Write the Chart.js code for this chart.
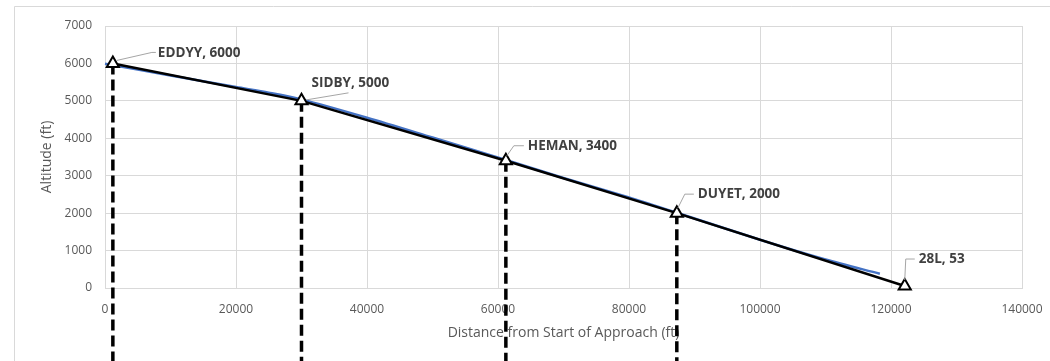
<!DOCTYPE html>
<html><head><meta charset="utf-8">
<script src="https://cdn.jsdelivr.net/npm/chart.js@4.4.0/dist/chart.umd.min.js"></script>
<style>html,body{margin:0;padding:0;background:#fff;overflow:hidden}canvas{display:block}</style>
</head><body><canvas id="c" width="1050" height="361"></canvas>
<script>
// ---- data ----
const waypointNames = ['EDDYY', 'SIDBY', 'HEMAN', 'DUYET', '28L'];
const waypointDistance = [1200, 30000, 61200, 87300, 122100];
const waypointAltitude = [6000, 5000, 3400, 2000, 53];
const dropLineWaypoints = [0, 1, 2, 3];
const dropLineBottom = -2000;
const profileDistance = [0, 10000, 20000, 25000, 30000, 40000, 50000, 61200, 70000, 80000, 87300, 100000, 110000, 118300];
const profileAltitude = [5990, 5680, 5370, 5220, 5040, 4550, 4020, 3420, 2940, 2420, 2010, 1290, 760, 380];
const xTickValues = [0, 20000, 40000, 60000, 80000, 100000, 120000, 140000];
const yTickValues = [0, 1000, 2000, 3000, 4000, 5000, 6000, 7000];
const xTitle = 'Distance from Start of Approach (ft)';
const yTitle = 'Altitude (ft)';

// ---- label placement (pixel offsets from the point; style only) ----
const labelStyle = [
  {dx: 45, dy: -10, leader: [[4, -3], [39, -11], [43, -11]]},
  {dx: 10, dy: -18, leader: [[5, -1], [47, -8]]},
  {dx: 22, dy: -15, leader: [[1, -5], [8, -15], [18, -15]]},
  {dx: 21, dy: -19, leader: [[1, -5], [8, -19], [17, -19]]},
  {dx: 14, dy: -27, leader: [[0, -6], [1, -27], [10, -27]]}
];

const GRAY = '#595959';
const GRID = '#d9d9d9';
const FONT = "'Open Sans', 'Liberation Sans', sans-serif";

const waypointPoints = waypointDistance.map((x, i) => ({x, y: waypointAltitude[i]}));
const profilePoints = profileDistance.map((x, i) => ({x, y: profileAltitude[i]}));

const datasets = [
  {
    label: 'Waypoints', data: waypointPoints, order: 0,
    borderColor: '#000', borderWidth: 2.5, tension: 0,
    pointStyle: 'triangle', pointRadius: 7, pointHoverRadius: 7,
    pointBackgroundColor: '#fff', pointBorderColor: '#000', pointBorderWidth: 2,
    clip: false
  },
  {
    label: 'Profile', data: profilePoints, order: 1,
    borderColor: '#4472C4', borderWidth: 2.5, tension: 0.3,
    pointRadius: 0, clip: false
  }
];
dropLineWaypoints.forEach(i => {
  datasets.push({
    label: 'drop' + i, order: 2,
    data: [{x: waypointDistance[i], y: waypointAltitude[i]}, {x: waypointDistance[i], y: dropLineBottom}],
    borderColor: '#000', borderWidth: 3.5, borderDash: [11, 5],
    pointRadius: 0, clip: false
  });
});

const framePlugin = {
  id: 'frame',
  beforeDraw(chart) {
    const ctx = chart.ctx;
    ctx.save();
    ctx.fillStyle = '#fff';
    ctx.fillRect(0, 0, chart.width, chart.height);
    ctx.strokeStyle = GRID;
    ctx.lineWidth = 1;
    ctx.beginPath();
    ctx.moveTo(14.5, chart.height);
    ctx.lineTo(14.5, 6.5);
    ctx.lineTo(chart.width, 6.5);
    ctx.stroke();
    ctx.restore();
  }
};

const labelPlugin = {
  id: 'wpLabels',
  afterDatasetsDraw(chart) {
    const ctx = chart.ctx;
    const xs = chart.scales.x, ys = chart.scales.y;
    ctx.save();
    waypointNames.forEach((name, i) => {
      const px = xs.getPixelForValue(waypointDistance[i]);
      const py = ys.getPixelForValue(waypointAltitude[i]);
      const st = labelStyle[i];
      ctx.strokeStyle = '#a6a6a6';
      ctx.lineWidth = 1;
      ctx.beginPath();
      st.leader.forEach((p, k) => {
        if (k === 0) ctx.moveTo(px + p[0], py + p[1]); else ctx.lineTo(px + p[0], py + p[1]);
      });
      ctx.stroke();
      ctx.fillStyle = '#404040';
      ctx.font = 'bold 13.5px ' + FONT;
      ctx.textAlign = 'left';
      ctx.textBaseline = 'middle';
      ctx.fillText(name + ', ' + waypointAltitude[i], px + st.dx, py + st.dy);
    });
    ctx.restore();
  }
};

new Chart(document.getElementById('c'), {
  type: 'line',
  data: {datasets},
  plugins: [framePlugin, labelPlugin],
  options: {
    responsive: false, devicePixelRatio: 1, animation: false,
    layout: {padding: {top: 26, right: 28, left: 0, bottom: 0}},
    plugins: {legend: {display: false}, tooltip: {enabled: false}},
    scales: {
      x: {
        type: 'linear', min: 0, max: 140000,
        afterBuildTicks: s => { s.ticks = xTickValues.map(v => ({value: v})); },
        afterFit: s => { s.height = 73; s.paddingRight = 0; s.paddingLeft = 0; },
        grid: {color: GRID, drawTicks: false, lineWidth: 1},
        border: {color: GRID},
        ticks: {color: GRAY, font: {family: FONT, size: 12}, padding: 14, maxRotation: 0, autoSkip: false, callback: v => String(v)},
        title: {display: true, text: xTitle, color: GRAY, font: {family: FONT, size: 14}, padding: {top: 0, bottom: 19.6}}
      },
      y: {
        type: 'linear', min: 0, max: 7000,
        afterBuildTicks: s => { s.ticks = yTickValues.map(v => ({value: v})); },
        afterFit: s => { s.width = 105; s.paddingTop = 0; s.paddingBottom = 0; },
        grid: {color: GRID, drawTicks: false, lineWidth: 1},
        border: {color: GRID},
        ticks: {color: GRAY, font: {family: FONT, size: 12}, padding: 13, callback: v => String(v)},
        title: {display: true, text: yTitle, color: GRAY, font: {family: FONT, size: 14}, padding: {top: 38.6, bottom: 0}}
      }
    }
  }
});
</script>
</body></html>
